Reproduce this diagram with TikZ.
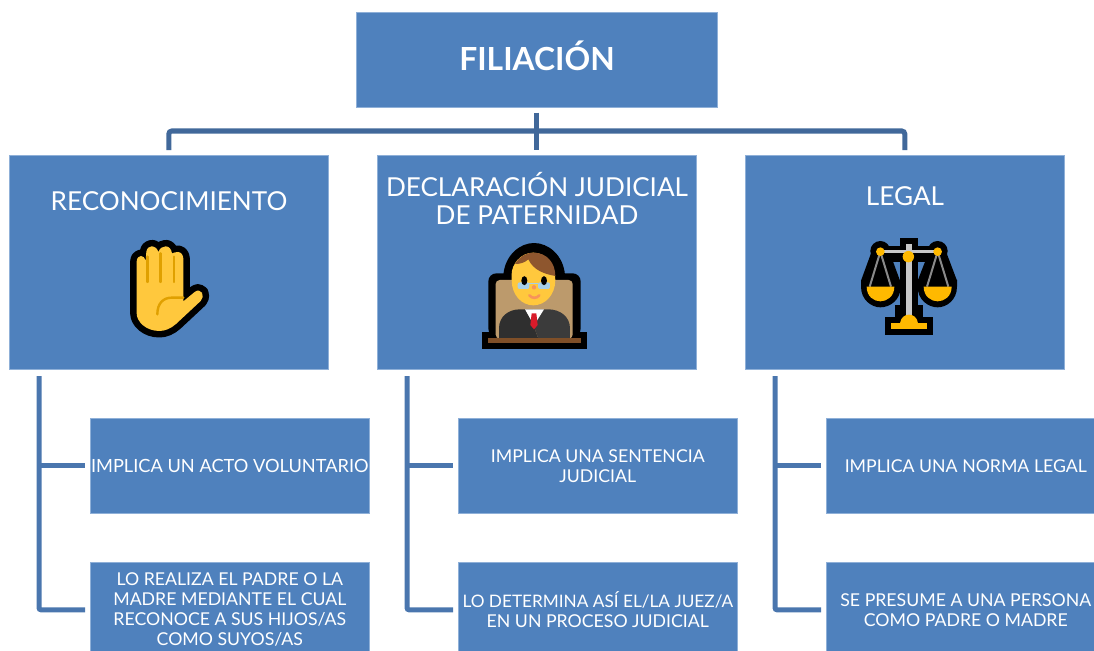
\documentclass[tikz,border=0pt]{standalone}
\usepackage{fontspec}
\setmainfont{Lato}
\usetikzlibrary{calc}
\definecolor{boxblue}{HTML}{4F81BD}
\definecolor{boxedge}{HTML}{8FB0D8}
\definecolor{busblue}{HTML}{41689A}
\definecolor{trunkblue}{HTML}{4A76AE}
\definecolor{emojiyellow}{HTML}{FFC83D}
\definecolor{crease}{HTML}{E0A000}
\definecolor{amber}{HTML}{FFB900}
\definecolor{steel}{HTML}{C8C8C8}
\definecolor{steeld}{HTML}{8A8A8A}
\definecolor{chairtan}{HTML}{BC9A6C}
\definecolor{hairbrown}{HTML}{8E562E}
\definecolor{deskbrown}{HTML}{7F4F28}
\definecolor{suitd}{HTML}{2F2F2F}
\definecolor{suitl}{HTML}{3B3B3B}
\definecolor{lensblue}{HTML}{A6CFE8}
\definecolor{tiered}{HTML}{D81B2A}
\definecolor{smile}{HTML}{F7945A}
\tikzset{
  x=1pt,y=-1pt,
  bluebox/.style={fill=boxblue,draw=boxedge,line width=0.3pt,inner sep=0pt,outer sep=0pt,anchor=north west},
  headtext/.style={text=white,font=\fontsize{26.1}{28}\selectfont,align=center,inner sep=0pt},
  subtext/.style={text=white,font=\fontsize{17.7}{20}\selectfont,align=center,inner sep=0pt},
  bus/.style={draw=busblue,line width=5pt,rounded corners=3pt},
  trunk/.style={draw=trunkblue,line width=5pt,rounded corners=2pt},
}
\newcommand{\mainbox}[3]{\node[bluebox,minimum width=319.6pt,minimum height=214.6pt] (#1) at (#2,#3) {};}
\newcommand{\subbox}[4]{\node[bluebox,minimum width=279.6pt,minimum height=95.6pt,subtext] (#1) at (#2,#3) {#4};}
\begin{document}
\begin{tikzpicture}
\useasboundingbox (0,0) rectangle (1094,650);
% top box
\node[bluebox,minimum width=361.6pt,minimum height=95.6pt] (top) at (356,12) {};
\node[text=white,font=\fontsize{31.8}{34}\selectfont\bfseries,inner sep=0pt] (toplabel) at (537,55.5) {FILIACIÓN};
% main boxes
\mainbox{rec}{9}{155}
\mainbox{dec}{377}{155}
\mainbox{leg}{745}{155}
\node[headtext] (reclabel) at (169,201) {RECONOCIMIENTO};
\node[headtext] (declabel) at (537,198.5) {DECLARACIÓN JUDICIAL\\DE PATERNIDAD};
\node[headtext] (leglabel) at (905,196) {LEGAL};
% sub boxes
\subbox{a1}{90}{418}{\fontsize{18.2}{20}\selectfont IMPLICA UN ACTO VOLUNTARIO}
\subbox{a2}{90}{562}{LO REALIZA EL PADRE O LA\\MADRE MEDIANTE EL CUAL\\RECONOCE A SUS HIJOS/AS\\COMO SUYOS/AS}
\subbox{b1}{458}{418}{IMPLICA UNA SENTENCIA\\JUDICIAL}
\subbox{b2}{458}{562}{\fontsize{17.2}{20}\selectfont LO DETERMINA ASÍ EL/LA JUEZ/A\\EN UN PROCESO JUDICIAL}
\subbox{c1}{826}{418}{IMPLICA UNA NORMA LEGAL}
\subbox{c2}{826}{562}{SE PRESUME A UNA PERSONA\\COMO PADRE O MADRE}
% top connectors
\coordinate (recend) at ([yshift=5pt]rec.north);
\coordinate (decend) at ([yshift=5pt]dec.north);
\coordinate (legend) at ([yshift=5pt]leg.north);
\coordinate (topstart) at ([yshift=-5pt]top.south);
\coordinate (busl) at (recend |- 0,131);
\coordinate (busr) at (legend |- 0,131);
\draw[bus] (recend) -- (busl) -- (busr) -- (legend);
\draw[draw=busblue,line width=5pt] (topstart) -- (decend);
% lower connectors
\foreach \m/\u/\v/\tx in {rec/a1/a2/39,dec/b1/b2/407,leg/c1/c2/775}{
  \coordinate (\m trunk) at (\tx,376);
  \coordinate (\u end) at ([xshift=-5pt]\u.west);
  \coordinate (\v end) at ([xshift=-5pt]\v.west);
  \draw[trunk] (\m trunk) |- (\v end);
  \draw[draw=trunkblue,line width=5pt] (\m trunk |- \u end) -- (\u end);
}
% hand emoji
\begin{scope}[shift={(100,220)},x=0.3333pt,y=-0.3333pt,line join=round]
  \def\handpath{(110,280) -- (110,125) .. controls (110,113) and (118,108) .. (123,108) .. controls (129,108) and (135,113) .. (137,122)
   -- (139,95) .. controls (141,84) and (148,79) .. (155,79) .. controls (162,79) and (172,84) .. (175,96)
   .. controls (180,84) and (188,79) .. (197,79) .. controls (206,79) and (214,86) .. (216,100)
   .. controls (222,98) and (228,96) .. (234,96) .. controls (243,96) and (250,105) .. (250,116)
   -- (250,244) -- (284,216) .. controls (292,209) and (302,211) .. (306,218) .. controls (311,226) and (308,236) .. (302,243)
   -- (228,312) .. controls (212,326) and (195,333) .. (178,333) .. controls (138,333) and (110,305) .. (110,280) -- cycle}
  \draw[black,line width=13pt] \handpath;
  \fill[emojiyellow] \handpath;
  \draw[crease,line width=2.4pt,line cap=round] (143,110) -- (143,186) (182,100) -- (182,186) (222,110) -- (222,186);
  \draw[crease,line width=2.4pt,line cap=round] (172,283) .. controls (172,250) and (190,233) .. (215,233) -- (250,233);
\end{scope}
% judge emoji
\begin{scope}[shift={(470,230)},x=0.3333pt,y=-0.3333pt,line join=round]
  \fill[black] (36,307) rectangle (351,356);
  \fill[black,rounded corners=8pt] (55,130) rectangle (332,320);
  \fill[black] (100,135) .. controls (105,75) and (150,39) .. (192,39) .. controls (235,39) and (280,75) .. (285,135) -- cycle;
  \fill[chairtan,rounded corners=4pt] (77,150) rectangle (308,326);
  % head
  \fill[emojiyellow] (125,132) .. controls (125,105) and (150,68) .. (190,68) .. controls (230,68) and (256,105) .. (256,150)
     .. controls (256,195) and (225,226) .. (190,226) .. controls (155,226) and (125,195) .. (125,150) -- cycle;
  \fill[hairbrown] (135,102) .. controls (150,78) and (170,68) .. (190,68) .. controls (232,68) and (256,100) .. (256,138)
     .. controls (222,132) and (190,120) .. (175,88) .. controls (165,98) and (150,102) .. (135,102) -- cycle;
  % suit
  \fill[suitd] (87,326) -- (87,295) .. controls (87,260) and (115,238) .. (150,238) -- (190,238) -- (190,285) -- (205,326) -- cycle;
  \fill[suitl] (300,326) -- (300,295) .. controls (300,260) and (270,238) .. (235,238) -- (190,238) -- (190,285) -- (205,326) -- cycle;
  \fill[white] (165,238) -- (222,238) -- (192,286) -- cycle;
  \fill[tiered] (185,250) -- (199,250) -- (203,285) -- (192,298) -- (181,285) -- cycle;
  \fill[deskbrown] (55,325) rectangle (332,338);
  % glasses, eyes, nose, mouth
  \fill[lensblue,rounded corners=2pt] (143,157) rectangle (178,177);
  \fill[lensblue,rounded corners=2pt] (204,157) rectangle (240,177);
  \fill[lensblue] (178,160) rectangle (204,163);
  \fill[black] (163,152) ellipse (3pt and 4.5pt);
  \fill[black] (222,152) ellipse (3pt and 4.5pt);
  \fill[smile] (192,172) circle (2.2pt);
  \draw[smile,line width=2.6pt,line cap=round] (178,196) .. controls (186,206) and (200,206) .. (208,196);
\end{scope}
% scales emoji
\begin{scope}[shift={(845,225)},x=0.3333pt,y=-0.3333pt,line join=round]
  \fill[black] (165,40) rectangle (218,70);
  \fill[black] (120,275) rectangle (265,330);
  \fill[black] (165,60) rectangle (220,280);
  \fill[black] (150,240) rectangle (235,280);
  \fill[black] (106,78) circle (10pt);
  \fill[black] (278,78) circle (10pt);
  \fill[black] (106,62) rectangle (278,112);
  \fill[black] (78,85) -- (48,167) -- (165,167) -- (135,85) -- cycle;
  \fill[black] (250,85) -- (218,167) -- (336,167) -- (305,85) -- cycle;
  \fill[black] (48,165) -- (48,185) .. controls (48,225) and (80,247) .. (106,247) .. controls (135,247) and (167,225) .. (167,185) -- (167,165) -- cycle;
  \fill[black] (218,165) -- (218,185) .. controls (218,225) and (250,247) .. (278,247) .. controls (305,247) and (336,225) .. (336,185) -- (336,165) -- cycle;
  \draw[steeld,line width=2pt] (106,80) -- (74,185) (106,80) -- (138,185) (278,80) -- (246,185) (278,80) -- (310,185);
  \draw[steel,line width=2.6pt] (106,80) -- (278,80);
  \fill[steel] (182,58) rectangle (202,296);
  \fill[amber] (65,185) -- (148,185) .. controls (148,215) and (125,229) .. (106,229) .. controls (87,229) and (65,215) .. (65,185) -- cycle;
  \fill[amber] (236,185) -- (320,185) .. controls (320,215) and (297,229) .. (278,229) .. controls (259,229) and (236,215) .. (236,185) -- cycle;
  \fill[amber] (106,80) circle (4.3pt);
  \fill[amber] (278,80) circle (4.3pt);
  \fill[amber] (190,95) circle (5.7pt);
  \fill[amber] (165,295) .. controls (167,277) and (180,269) .. (192,269) .. controls (204,269) and (217,277) .. (219,295) -- cycle;
  \fill[amber] (138,295) rectangle (245,312);
\end{scope}
\end{tikzpicture}
\end{document}
